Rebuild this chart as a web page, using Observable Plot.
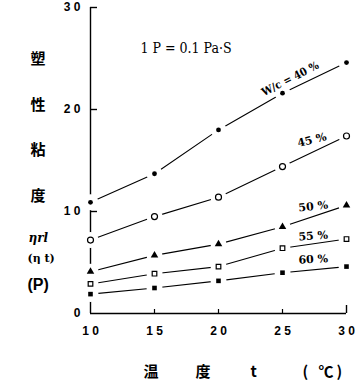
<!DOCTYPE html>
<html><head><meta charset="utf-8">
<script src="https://cdn.jsdelivr.net/npm/d3@7"></script>
<script src="https://cdn.jsdelivr.net/npm/@observablehq/plot@0.6"></script>
<style>body{margin:0;background:#fff}</style>
</head><body><div id="chart"></div>
<script>
const temps = [10, 15, 20, 25, 30];
const wc40 = [10.9, 13.7, 18.0, 21.6, 24.6];
const wc45 = [7.2, 9.5, 11.4, 14.4, 17.4];
const wc50 = [4.1, 5.7, 6.8, 8.5, 10.6];
const wc55 = [2.9, 3.9, 4.6, 6.4, 7.3];
const wc60 = [1.9, 2.5, 3.2, 4.0, 4.6];
const seriesKeys = ["40", "45", "50", "55", "60"];
const seriesLabels = ["W/c = 40 %", "45 %", "50 %", "55 %", "60 %"];
const xTicks = [10, 15, 20, 25, 30];
const yTicks = [0, 10, 20, 30];
const yLabelChars = ["塑", "性", "粘", "度"];
const yLabelUnits = ["ηrl", "(η t)", "(P)"];
const xLabelParts = ["温", "度", "t", "(", "℃", ")"];
const noteText = "1 P = 0.1 Pa·S";

const allValues = [wc40, wc45, wc50, wc55, wc60];
const data = [];
allValues.forEach((vals, i) => vals.forEach((v, j) => data.push({series: seriesKeys[i], t: temps[j], v})));
const bySeries = k => data.filter(d => d.series === k);

const labelPos = [
  {x: 25.6, y: 23.0, rot: -27, font: "DejaVu Serif Condensed, serif"},
  {x: 27.3, y: 17.0, rot: -14, font: "DejaVu Serif, serif"},
  {x: 27.4, y: 10.5, rot: -6, font: "DejaVu Serif, serif"},
  {x: 27.4, y: 7.6, rot: -4, font: "DejaVu Serif, serif"},
  {x: 27.4, y: 5.3, rot: -3, font: "DejaVu Serif, serif"}
];

const digitFont = "Liberation Sans, Arial, sans-serif";
const cjkFont = "Noto Sans CJK JP, sans-serif";
const serifFont = "DejaVu Serif Condensed, DejaVu Serif, serif";
const spaced = d => String(d).split("").join(" ");
const blank = () => "";

const marks = [
  Plot.ruleX([10], {y1: 0, y2: 30, strokeWidth: 1.4}),
  Plot.ruleY([0], {x1: 10, x2: 30, strokeWidth: 1.4}),
  Plot.axisY({ticks: yTicks.filter(d => d > 0), tickSize: 7, dx: 7, tickFormat: blank, label: null, strokeWidth: 1.4}),
  Plot.axisX({ticks: xTicks.filter(d => d > 10 && d < 30), tickSize: 4, dy: -4, tickFormat: blank, label: null, strokeWidth: 1.2}),
  Plot.axisX({ticks: [30], tickSize: 8, dy: -8, tickFormat: blank, label: null, strokeWidth: 1.4}),
  Plot.axisY({ticks: yTicks, tickSize: 0, tickPadding: 10, tickFormat: spaced, fontSize: 12, fontWeight: "bold", fontFamily: digitFont, label: null}),
  Plot.axisX({ticks: xTicks, tickSize: 0, tickPadding: 13, tickFormat: spaced, fontSize: 12, fontWeight: "bold", fontFamily: digitFont, label: null}),
  Plot.line(data, {x: "t", y: "v", z: "series", stroke: "black", strokeWidth: 1.1}),
  Plot.dot(data, {x: "t", y: "v", r: 8, fill: "white", stroke: "none"}),
  Plot.dot(bySeries("40"), {x: "t", y: "v", r: 2.4, fill: "black", symbol: "circle"}),
  Plot.dot(bySeries("45"), {x: "t", y: "v", r: 3, fill: "white", stroke: "black", strokeWidth: 1.2, symbol: "circle"}),
  Plot.dot(bySeries("50"), {x: "t", y: "v", r: 2.8, fill: "black", symbol: "triangle"}),
  Plot.dot(bySeries("55"), {x: "t", y: "v", r: 2.6, fill: "white", stroke: "black", strokeWidth: 1.2, symbol: "square"}),
  Plot.dot(bySeries("60"), {x: "t", y: "v", r: 2.6, fill: "black", symbol: "square"}),
  ...seriesLabels.map((s, i) => Plot.text([s], {x: labelPos[i].x, y: labelPos[i].y, text: d => d, rotate: labelPos[i].rot, fontSize: 11, fontWeight: "bold", fontFamily: labelPos[i].font})),
  Plot.text([noteText], {frameAnchor: "top-left", dx: 50, dy: 36, text: d => d, textAnchor: "start", fontSize: 14, fontFamily: serifFont}),
  ...yLabelChars.map((c, i) => Plot.text([c], {frameAnchor: "top-left", dx: -60, dy: 46 + i * 45.5, text: d => d, fontSize: 15, fontWeight: "bold", fontFamily: cjkFont})),
  Plot.text([yLabelUnits[0]], {frameAnchor: "top-left", dx: -62, dy: 226, text: d => d, fontSize: 12, fontWeight: "bold", fontStyle: "italic", fontFamily: "DejaVu Serif, serif"}),
  Plot.text([yLabelUnits[1]], {frameAnchor: "top-left", dx: -63, dy: 247, text: d => d, fontSize: 11, fontWeight: "bold", fontFamily: "DejaVu Serif, serif"}),
  Plot.text([yLabelUnits[2]], {frameAnchor: "top-left", dx: -63, dy: 271, text: d => d, fontSize: 16, fontWeight: "bold", fontFamily: digitFont}),
  ...xLabelParts.map((c, i) => Plot.text([c], {frameAnchor: "bottom-left", dx: [53, 105, 160, 212, 228, 246][i], dy: 63, text: d => d, fontSize: 15, fontWeight: "bold", fontFamily: cjkFont}))
];

const chart = Plot.plot({
  width: 355,
  height: 391,
  marginLeft: 90,
  marginRight: 9,
  marginTop: 7,
  marginBottom: 78,
  x: {domain: [10, 30]},
  y: {domain: [0, 30]},
  style: {background: "white", color: "black", overflow: "visible"},
  marks
});
document.getElementById("chart").appendChild(chart);
</script>
</body></html>
